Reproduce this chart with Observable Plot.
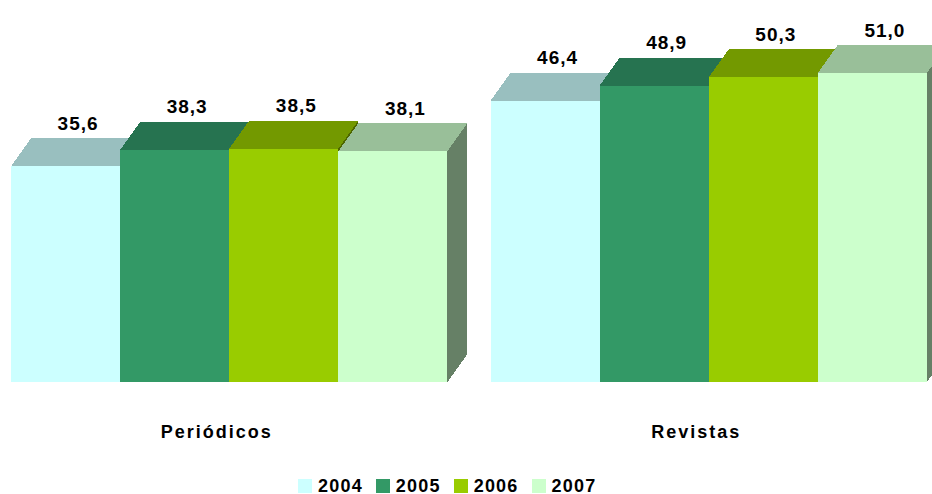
<!DOCTYPE html>
<html>
<head>
<meta charset="utf-8">
<script src="https://cdn.jsdelivr.net/npm/d3@7"></script>
<script src="https://cdn.jsdelivr.net/npm/@observablehq/plot@0.6"></script>
<style>
  body { margin: 0; background: #fff; font-family: "Liberation Sans", Arial, sans-serif; }
  #chart svg text { font-weight: bold; }
  #chart svg .val text, #chart svg text.val { letter-spacing: 1px; }
  #chart svg .cat text, #chart svg text.cat { letter-spacing: 2px; }
  .legend { display: flex; align-items: center; height: 16px; margin-top: 18px; padding-left: 298px;
            font-weight: bold; font-size: 18px; letter-spacing: 1.2px; color: #000; }
  .legend .item { display: flex; align-items: center; margin-right: 13px; }
  .legend .sw { display: inline-block; width: 14px; height: 14px; margin-right: 6px; }
</style>
</head>
<body>
<div id="chart"></div>
<div class="legend" id="legend"></div>
<script>
// ---- data ----
const categories = ["Periódicos", "Revistas"];
const years = ["2004", "2005", "2006", "2007"];
const periodicos = [35.6, 38.3, 38.5, 38.1];
const revistas = [46.4, 48.9, 50.3, 51.0];

// ---- palette (front, top and side faces) ----
const frontColors = ["#CCFFFF", "#339966", "#99CC00", "#CCFFCC"];
const topColors   = ["#99BFBF", "#267350", "#739900", "#99BF99"];
const sideColors  = ["#668080", "#1A4D33", "#4D6600", "#668066"];

const table = [];
[periodicos, revistas].forEach((vals, c) =>
  vals.forEach((v, k) => table.push({category: categories[c], year: years[k], value: v}))
);

const DX = 20, DY = 28; // depth of the 3D effect, in pixels
const ns = "http://www.w3.org/2000/svg";
const fmt = v => v.toFixed(1).replace(".", ",");

function bars3d(index, scales, values, dimensions, context, next) {
  const g = next(index, scales, values, dimensions, context);
  const rects = Array.from(g.querySelectorAll("rect"));
  rects.forEach((r, j) => {
    const i = index[j];
    const k = years.indexOf(table[i].year);
    const x = +r.getAttribute("x"), y = +r.getAttribute("y");
    const w = +r.getAttribute("width"), h = +r.getAttribute("height");
    const side = document.createElementNS(ns, "polygon");
    side.setAttribute("points", [[x + w, y + h], [x + w + DX, y + h - DY], [x + w + DX, y - DY], [x + w, y]].map(p => p.join(",")).join(" "));
    side.setAttribute("fill", sideColors[k]);
    const top = document.createElementNS(ns, "polygon");
    top.setAttribute("points", [[x, y], [x + DX, y - DY], [x + w + DX, y - DY], [x + w, y]].map(p => p.join(",")).join(" "));
    top.setAttribute("fill", topColors[k]);
    r.parentNode.insertBefore(side, r);
    r.parentNode.insertBefore(top, r);
  });
  return g;
}

const plot = Plot.plot({
  width: 932,
  height: 460,
  marginLeft: 11,
  marginRight: 5,
  marginTop: 382 - 60 * 6.06,
  marginBottom: 78,
  style: {fontFamily: "'Liberation Sans', Arial, sans-serif", fontSize: "18px", color: "#000", background: "#fff"},
  fx: {domain: categories, axis: null, paddingInner: 0.0897, paddingOuter: 0, round: false},
  x: {domain: years, axis: null, padding: 0, round: false},
  y: {domain: [0, 60], axis: null},
  color: {domain: years, range: frontColors},
  marks: [
    Plot.barY(table, {fx: "category", x: "year", y: "value", fill: "year", shapeRendering: "crispEdges", render: bars3d}),
    Plot.text(table, {fx: "category", x: "year", y: "value", text: d => fmt(d.value), dx: 12, dy: -43,
                      fontSize: 19, fontWeight: "bold", fill: "#000", className: "val"}),
    Plot.text(categories, {fx: d => d, text: d => d, frameAnchor: "bottom", dy: 55, dx: -13,
                           fontSize: 18, fontWeight: "bold", fill: "#000", className: "cat"})
  ]
});
document.getElementById("chart").appendChild(plot);

const legend = document.getElementById("legend");
years.forEach((y, k) => {
  const item = document.createElement("div");
  item.className = "item";
  const sw = document.createElement("span");
  sw.className = "sw";
  sw.style.background = frontColors[k];
  const t = document.createElement("span");
  t.textContent = y;
  item.appendChild(sw);
  item.appendChild(t);
  legend.appendChild(item);
});
</script>
</body>
</html>
